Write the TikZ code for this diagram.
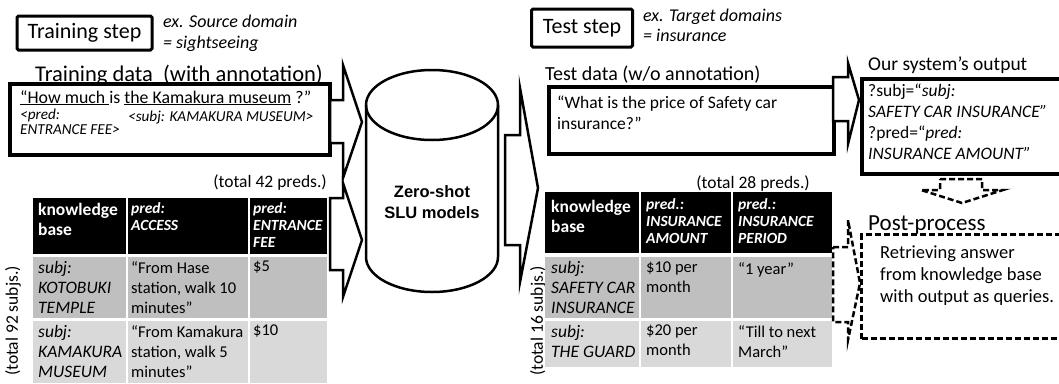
\documentclass[tikz,border=0pt]{standalone}
\usepackage{fontspec}
\setmainfont{Carlito}
\newfontfamily\slufont{Liberation Sans}
\usetikzlibrary{positioning}
\definecolor{rowdark}{HTML}{BFBFBF}
\definecolor{rowlight}{HTML}{D9D9D9}
\tikzset{
  stepbox/.style={draw, line width=3pt, rounded corners=1.5pt, inner sep=0pt, font=\fontsize{22}{25}\selectfont},
  databox/.style={draw, line width=3.5pt, inner sep=0pt, anchor=north west},
  blockarr/.style={draw, line width=2.5pt, fill=white, line join=miter, miter limit=20},
  dasharr/.style={blockarr, dash pattern=on 6pt off 3pt},
  heading/.style={font=\fontsize{20}{24}\selectfont, inner sep=0pt, anchor=base west},
  note/.style={font=\fontsize{18}{20}\selectfont\itshape, inner sep=0pt, anchor=base west},
  body/.style={font=\fontsize{17.5}{21}\selectfont, inner sep=0pt, anchor=north west, align=left},
  tag/.style={font=\fontsize{15.2}{15}\selectfont\itshape, inner sep=0pt, align=left},
  kbhead/.style={font=\fontsize{17.5}{20}\selectfont\bfseries, text=white, inner sep=0pt, anchor=north west, align=left},
  predhead/.style={font=\fontsize{15.5}{17}\selectfont\bfseries\itshape, text=white, inner sep=0pt, anchor=north west, align=left},
  cell/.style={font=\fontsize{16.5}{20}\selectfont, inner sep=0pt, anchor=north west, align=left},
  subjcell/.style={cell, font=\fontsize{17.5}{20}\selectfont\itshape},
  total/.style={font=\fontsize{17.5}{20}\selectfont, inner sep=0pt},
}

\begin{document}
\begin{tikzpicture}[x=1pt, y=-1pt]
  \useasboundingbox (0,0) rectangle (1059,383);

  % training side
  \node[stepbox, minimum width=135pt, minimum height=34pt] (trainstep) at (84.5,33) {Training step};
  \node[note] (srcdom) at (163,27) {ex. Source domain};
  \node[note] (srcdom2) at (163,48) {= sightseeing};
  \node[heading, font=\fontsize{22.5}{24}\selectfont] (trainlbl) at (35,81) {Training data\ \ (with annotation)};
  \node[databox, minimum width=320pt, minimum height=71pt] (traindata) at (8,82) {};
  \node[body, anchor=base west, font=\fontsize{17.8}{21}\selectfont] (trainq) at (20,103) {\underline{“How much }is \underline{the Kamakura museum} ?”};
  \node[tag, anchor=north west] (predtag) at (20,109) {<pred:\\ENTRANCE FEE>};
  \node[tag, anchor=base west] (subjtag) at (128,121) {<subj: KAMAKURA MUSEUM>};

  % knowledge base (source)
  \node[total, anchor=base east] (predsL) at (327,187) {(total 42 preds.)};
  \node[total, rotate=90] (subjsL) at (13,321) {(total 92 subjs.)};
  \foreach \xa/\xb in {33/126,128/248,250/327} {
    \fill[black] (\xa,198) rectangle (\xb,254);
    \fill[rowdark] (\xa,257) rectangle (\xb,318);
    \fill[rowlight] (\xa,321) rectangle (\xb,383);
  }
  \node[kbhead] (kbL) at (38,203) {knowledge\\base};
  \node[predhead] (accL) at (131,202) {pred:\\ACCESS};
  \node[predhead] (feeL) at (253,202) {pred:\\ENTRANCE\\FEE};
  \node[subjcell] (kotobuki) at (38,261) {subj:\\KOTOBUKI\\TEMPLE};
  \node[cell] (acc1) at (131,261) {“From Hase\\station, walk 10\\minutes”};
  \node[cell] (fee1) at (253,261) {\$5};
  \node[subjcell] (kamakura) at (38,325) {subj:\\KAMAKURA\\MUSEUM};
  \node[cell] (acc2) at (131,325) {“From Kamakura\\station, walk 5\\minutes”};
  \node[cell] (fee2) at (253,325) {\$10};

  % block arrows into the model
  \draw[blockarr] (330,100) -- (343,100) -- (343,65) -- (362,122) -- (343,178) -- (343,143) -- (330,143) -- cycle;
  \draw[blockarr] (330,198) -- (343,198) -- (343,183) -- (362,240) -- (343,297) -- (343,270) -- (330,270) -- cycle;

  % model
  \draw[line width=2.5pt, fill=white] (366,105) -- (366,257) arc[start angle=180, end angle=0, x radius=66, y radius=35] -- (498,105);
  \draw[line width=2.5pt] (432,105) ellipse [x radius=66, y radius=35];
  \node[font=\fontsize{16.5}{21}\selectfont\slufont\bfseries, align=center] (slu) at (432,202) {Zero-shot\\SLU models};

  \draw[blockarr] (505,135) -- (520,135) -- (520,88) -- (538,188) -- (520,282) -- (520,245) -- (505,245) -- cycle;

  % test side
  \node[stepbox, minimum width=101pt, minimum height=38pt] (teststep) at (582,28) {Test step};
  \node[note] (tgtdom) at (643,21) {ex. Target domains};
  \node[note] (tgtdom2) at (643,41) {= insurance};
  \node[heading] (testlbl) at (545,80) {Test data (w/o annotation)};
  \node[databox, minimum width=285pt, minimum height=67pt] (testdata) at (547,85) {};
  \node[body] (testq) at (557,96) {“What is the price of Safety car\\insurance?”};

  % knowledge base (target)
  \node[total, anchor=base east] (predsR) at (810,188) {(total 28 preds.)};
  \node[total, rotate=90] (subjsR) at (538,321) {(total 16 subjs.)};
  \foreach \xa/\xb in {545/639,641/731,733/832} {
    \fill[black] (\xa,192) rectangle (\xb,253);
    \fill[rowdark] (\xa,257) rectangle (\xb,318);
    \fill[rowlight] (\xa,321) rectangle (\xb,367);
  }
  \node[kbhead] (kbR) at (551,200) {knowledge\\base};
  \node[predhead] (amtR) at (646,198) {pred.:\\INSURANCE\\AMOUNT};
  \node[predhead] (perR) at (738,198) {pred.:\\INSURANCE\\PERIOD};
  \node[subjcell] (safety) at (551,261) {subj:\\SAFETY CAR\\INSURANCE};
  \node[cell] (amt1) at (646,262) {\$10 per\\month};
  \node[cell] (per1) at (738,262) {“1 year”};
  \node[subjcell] (guard) at (551,325) {subj:\\THE GUARD};
  \node[cell] (amt2) at (646,325) {\$20 per\\month};
  \node[cell] (per2) at (738,325) {“Till to next\\March”};

  % output
  \draw[blockarr] (833,77) -- (848,77) -- (848,63) -- (859,100) -- (848,144) -- (848,121) -- (833,121) -- cycle;
  \node[heading, font=\fontsize{19.5}{24}\selectfont] (outlbl) at (868,70) {Our system’s output};
  \node[databox, minimum width=205pt, minimum height=95pt] (output) at (860,77) {};
  \node[body] (outtxt) at (868,84) {?subj=“\textit{subj:}\\\textit{SAFETY CAR INSURANCE”}\\?pred=“\textit{pred:}\\\textit{INSURANCE AMOUNT”}};

  % post-process
  \draw[dasharr] (940,179) -- (982,179) -- (982,190) -- (1003,190) -- (962,203) -- (921,190) -- (940,190) -- cycle;
  \node[heading, font=\fontsize{23}{24}\selectfont] (postlbl) at (868,230) {Post-process};
  \draw[dasharr] (833,247) -- (848,247) -- (848,220) -- (860,283) -- (848,340) -- (848,322) -- (833,322) -- cycle;
  \node[databox, dash pattern=on 6pt off 3pt, line width=3pt, minimum width=205pt, minimum height=104pt] (post) at (860,233) {};
  \node[body, font=\fontsize{18.5}{22}\selectfont] (posttxt) at (880,246) {Retrieving answer\\from knowledge base\\with output as queries.};
\end{tikzpicture}
\end{document}
